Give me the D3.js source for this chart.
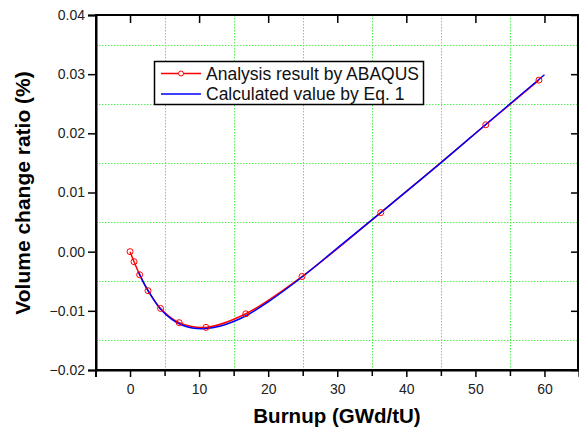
<!DOCTYPE html>
<html>
<head>
<meta charset="UTF-8">
<title></title>
<style>
  body { margin: 0; background: #fff; }
  text { font-family: Arial, "Liberation Sans", sans-serif; }
</style>
</head>
<body>
<div id="chart"></div>
<script src="https://d3js.org/d3.v7.min.js"></script>
<script>
// ABAQUS analysis result (burnup GWd/tU, volume change %)
var abaqusX = [0, 0.58, 1.39, 2.6, 4.42, 7.12, 11.0, 16.76, 24.9, 36.3, 51.5, 59.2];
var abaqusY = [0, -0.0017, -0.0039, -0.0066, -0.0096, -0.0120, -0.0128, -0.0105, -0.0042, 0.0066, 0.02145, 0.0290];

// Calculated by Eq. 1
var eqX = [1.2, 2.0, 3.0, 4.4, 6.0, 7.5, 9.0, 11.0, 13.0, 15.0, 17.0, 20.0, 25.0, 30.0, 36.3, 45.0, 52.0, 60.0];
var eqY = [-0.0034, -0.0053, -0.0073, -0.0097, -0.0114, -0.0124, -0.0129, -0.0130, -0.0126, -0.0118, -0.0107, -0.0085, -0.0042, 0.0006, 0.0066, 0.0150, 0.0220, 0.0299];

var xMajor = [0, 10, 20, 30, 40, 50, 60];
var xMinor = [-5, 5, 15, 25, 35, 45, 55, 65];
var yMajor = [-0.02, -0.01, 0.00, 0.01, 0.02, 0.03, 0.04];
var yMinor = [-0.015, -0.005, 0.005, 0.015, 0.025, 0.035];

var legendLabels = ["Analysis result by ABAQUS", "Calculated value by Eq. 1"];

var width = 579, height = 430;
var pLeft = 96, pRight = 578, pTop = 15, pBottom = 370;

var svg = d3.select("#chart").append("svg")
  .attr("width", width).attr("height", height);

var x = d3.scaleLinear().domain([-5, 65]).range([pLeft - 0.5, pRight + 1]);
var y = d3.scaleLinear().domain([-0.02, 0.04]).range([pBottom, pTop]);

// grid at minor positions
var grid = svg.append("g")
  .attr("stroke", "#55ee55")
  .attr("stroke-width", 1)
  .attr("stroke-dasharray", "1.5,1.5");
grid.selectAll(".gx").data(xMinor.filter(function(d) { return d > -5 && d < 65; }))
  .join("line")
  .attr("class", "gx")
  .attr("x1", function(d) { return Math.round(x(d)) + 0.5; })
  .attr("x2", function(d) { return Math.round(x(d)) + 0.5; })
  .attr("y1", pTop).attr("y2", pBottom);
grid.selectAll(".gy").data(yMinor)
  .join("line")
  .attr("class", "gy")
  .attr("y1", function(d) { return Math.round(y(d)) + 0.5; })
  .attr("y2", function(d) { return Math.round(y(d)) + 0.5; })
  .attr("x1", pLeft).attr("x2", pRight);

// axes
var fmtY = d3.format(".2f");
svg.append("g")
  .attr("transform", "translate(" + pLeft + ",0)")
  .call(d3.axisLeft(y).tickValues(yMajor).tickFormat(fmtY).tickSize(8).tickPadding(3))
  .call(function(g) {
    g.select(".domain").attr("stroke-width", 2);
    g.selectAll("line").attr("stroke-width", 1.5);
    g.selectAll("text").attr("font-size", "14px").attr("fill", "#222");
  });

svg.append("g")
  .attr("transform", "translate(0," + pBottom + ")")
  .call(d3.axisBottom(x).tickValues(xMajor).tickFormat(d3.format("d")).tickSize(7).tickPadding(7))
  .call(function(g) {
    g.select(".domain").attr("stroke-width", 2);
    g.selectAll("line").attr("stroke-width", 1.5);
    g.selectAll("text").attr("font-size", "14px").attr("fill", "#222");
  });

svg.append("g")
  .attr("transform", "translate(0," + pBottom + ")")
  .call(d3.axisBottom(x).tickValues(xMinor).tickFormat("").tickSize(6))
  .call(function(g) {
    g.select(".domain").remove();
    g.selectAll("line").attr("stroke-width", 1.5);
  });

svg.append("g")
  .attr("transform", "translate(0," + pTop + ")")
  .call(d3.axisBottom(x).tickValues(xMajor).tickFormat("").tickSize(8))
  .call(function(g) {
    g.select(".domain").remove();
    g.selectAll("line").attr("stroke-width", 1.5);
  });

svg.append("g")
  .attr("transform", "translate(" + pRight + ",0)")
  .call(d3.axisLeft(y).tickValues(yMajor).tickFormat("").tickSize(7))
  .call(function(g) {
    g.select(".domain").remove();
    g.selectAll("line").attr("stroke-width", 1.5);
  });

// frame
svg.append("rect")
  .attr("x", pLeft).attr("y", pTop)
  .attr("width", pRight - pLeft).attr("height", pBottom - pTop)
  .attr("fill", "none").attr("stroke", "#000").attr("stroke-width", 2);

// lines
var abaqus = abaqusX.map(function(d, i) { return { x: d, y: abaqusY[i] }; });
var eq = eqX.map(function(d, i) { return { x: d, y: eqY[i] }; });

var curve = d3.line()
  .x(function(d) { return x(d.x); })
  .y(function(d) { return y(d.y); })
  .curve(d3.curveCatmullRom.alpha(0.5));

svg.append("path").datum(abaqus)
  .attr("d", curve)
  .attr("fill", "none").attr("stroke", "#ff0000").attr("stroke-width", 1.5);

svg.append("path").datum(eq)
  .attr("d", curve)
  .attr("fill", "none").attr("stroke", "#0000ff").attr("stroke-width", 1.5);

svg.selectAll(".pt").data(abaqus)
  .join("circle")
  .attr("class", "pt")
  .attr("cx", function(d) { return x(d.x); })
  .attr("cy", function(d) { return y(d.y); })
  .attr("r", 3)
  .attr("fill", "none").attr("stroke", "#ff0000").attr("stroke-width", 1);

// legend
var lg = svg.append("g");
lg.append("rect")
  .attr("x", 154.5).attr("y", 61.5).attr("width", 269).attr("height", 43)
  .attr("fill", "#fff").attr("stroke", "#000").attr("stroke-width", 1.5);
var colors = ["#ff0000", "#0000ff"];
var rowY = [73.5, 94];
legendLabels.forEach(function(lbl, i) {
  lg.append("line")
    .attr("x1", 161).attr("x2", 201)
    .attr("y1", rowY[i]).attr("y2", rowY[i])
    .attr("stroke", colors[i]).attr("stroke-width", 1.5);
  if (i === 0) {
    lg.append("circle").attr("cx", 181).attr("cy", rowY[i]).attr("r", 2.5)
      .attr("fill", "#fff").attr("stroke", "#ff0000");
  }
  lg.append("text")
    .attr("x", 206).attr("y", rowY[i] + 6)
    .attr("font-size", "17.5px").attr("fill", "#111")
    .text(lbl);
});

// axis titles
svg.append("text")
  .attr("x", 337).attr("y", 423)
  .attr("text-anchor", "middle")
  .attr("font-size", "20.5px").attr("font-weight", "bold")
  .text("Burnup (GWd/tU)");

svg.append("text")
  .attr("transform", "translate(30," + 193 + ") rotate(-90)")
  .attr("text-anchor", "middle")
  .attr("font-size", "21px").attr("font-weight", "bold")
  .text("Volume change ratio (%)");
</script>
</body>
</html>
